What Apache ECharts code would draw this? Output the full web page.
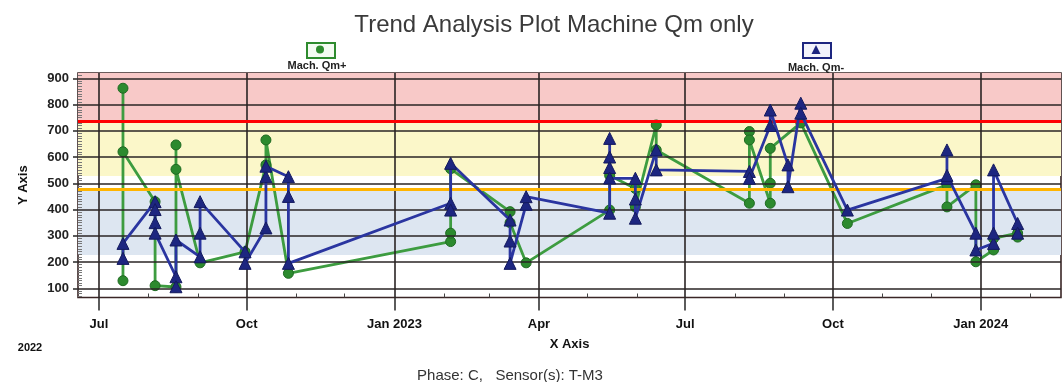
<!DOCTYPE html>
<html><head><meta charset="utf-8">
<script src="https://cdn.jsdelivr.net/npm/echarts@6/dist/echarts.min.js"></script>
<style>html,body{margin:0;padding:0;background:#fff}#c{width:1063px;height:382px}</style>
</head><body><div id="c"></div>
<script>
// ---------- data ----------
const qmPlusDates = ['2022-07-16','2022-07-16','2022-07-16','2022-08-05','2022-08-05','2022-08-18','2022-08-18','2022-08-18','2022-09-02','2022-09-30','2022-10-13','2022-10-13','2022-10-27','2023-02-05','2023-02-05','2023-02-05','2023-03-14','2023-03-14','2023-03-24','2023-05-15','2023-05-15','2023-05-31','2023-05-31','2023-06-13','2023-06-13','2023-08-10','2023-08-10','2023-08-10','2023-08-23','2023-08-23','2023-08-23','2023-09-11','2023-10-10','2023-12-11','2023-12-11','2023-12-29','2023-12-29','2024-01-09','2024-01-09','2024-01-24','2024-01-24'];
const qmPlusValues = [129,862,620,430,110,105,646,553,197,239,570,665,157,278,310,555,392,350,197,398,530,480,410,722,627,424,697,665,424,500,633,730,347,494,410,494,201,246,290,310,295];
const qmMinusDates = ['2022-07-16','2022-07-16','2022-08-05','2022-08-05','2022-08-05','2022-08-05','2022-08-18','2022-08-18','2022-08-18','2022-09-02','2022-09-02','2022-09-02','2022-09-30','2022-09-30','2022-10-13','2022-10-13','2022-10-13','2022-10-27','2022-10-27','2022-10-27','2023-02-05','2023-02-05','2023-02-05','2023-03-14','2023-03-14','2023-03-14','2023-03-24','2023-03-24','2023-05-15','2023-05-15','2023-05-15','2023-05-15','2023-05-15','2023-05-31','2023-05-31','2023-05-31','2023-06-13','2023-06-13','2023-08-10','2023-08-10','2023-08-23','2023-08-23','2023-09-03','2023-09-03','2023-09-11','2023-09-11','2023-10-10','2023-12-11','2023-12-11','2023-12-11','2023-12-29','2023-12-29','2024-01-09','2024-01-09','2024-01-09','2024-01-24','2024-01-24'];
const qmMinusValues = [214,271,430,400,350,310,144,106,284,220,310,430,239,195,330,525,565,525,450,195,424,398,576,360,280,195,420,449,386,671,600,560,520,519,440,367,627,551,545,519,720,779,570,487,805,767,398,519,627,530,310,246,271,310,551,347,310];

const yTickValues = [100,200,300,400,500,600,700,800,900];
const xTickDates = ['2022-07-01','2022-10-01','2023-01-01','2023-04-01','2023-07-01','2023-10-01','2024-01-01'];
const xTickLabels = ['Jul','Oct','Jan 2023','Apr','Jul','Oct','Jan 2024'];
const monthTickDates = ['2022-08-01','2022-09-01','2022-11-01','2022-12-01','2023-02-01','2023-03-01','2023-05-01','2023-06-01','2023-08-01','2023-09-01','2023-11-01','2023-12-01','2024-02-01'];
const xRange = ['2022-06-18','2024-02-20'];
const yRange = [65, 920];
const limitHigh = 735;
const limitLow = 478;
const bandRed = [735, 920];
const bandYellow = [528, 735];
const bandBlue = [227, 478];

// ---------- build ----------
const ts = d => Date.parse(d + 'T00:00:00Z');
const xTicks = xTickDates.map(ts);
const monthTicks = monthTickDates.map(ts);
const plusData = qmPlusDates.map((d, i) => [ts(d), qmPlusValues[i]]);
const minusData = qmMinusDates.map((d, i) => [ts(d), qmMinusValues[i]]);
const minorY = [];
for (let v = 70; v <= 915; v += 10) if (v % 100 !== 0) minorY.push(v);

const sans = "'Liberation Sans',Arial,sans-serif";
const gridLine = { color: '#2a2424', width: 1.6, type: 'solid' };

const chart = echarts.init(document.getElementById('c'), null, { renderer: 'canvas' });
chart.setOption({
  animation: false,
  backgroundColor: '#ffffff',
  title: [
    { text: 'Trend Analysis Plot Machine Qm only', left: 549, top: 8, textAlign: 'center',
      textStyle: { fontFamily: sans, fontSize: 24, fontWeight: 'normal', color: '#3a3a3a' } },
    { text: 'Phase: C,   Sensor(s): T-M3', left: 505, top: 363, textAlign: 'center',
      textStyle: { fontFamily: sans, fontSize: 15, fontWeight: 'normal', color: '#333' } }
  ],
  grid: { left: 78, right: 2, top: 73, bottom: 84.5, show: true, borderColor: '#3a2626', borderWidth: 1.6, backgroundColor: 'transparent' },
  xAxis: [
    { type: 'value', min: ts(xRange[0]), max: ts(xRange[1]), z: 3,
      name: 'X Axis', nameLocation: 'middle', nameGap: 40,
      nameTextStyle: { fontFamily: sans, fontSize: 13, fontWeight: 'bold', color: '#111' },
      axisLine: { show: false },
      axisTick: { show: true, customValues: xTicks, length: 13, lineStyle: { color: '#333', width: 1.6 } },
      axisLabel: { show: true, customValues: xTicks, margin: 20, fontFamily: sans, fontSize: 13, fontWeight: 'bold', color: '#111',
        formatter: v => { const i = xTicks.indexOf(v); return i >= 0 ? xTickLabels[i] : ''; } },
      splitLine: { show: false } },
    { type: 'value', min: ts(xRange[0]), max: ts(xRange[1]), position: 'bottom', offset: 0, z: 3,
      axisLine: { show: false },
      axisTick: { show: true, inside: true, customValues: monthTicks, length: 4, lineStyle: { color: '#444', width: 1 } },
      axisLabel: { show: false }, splitLine: { show: false } }
  ],
  yAxis: [
    { type: 'value', min: yRange[0], max: yRange[1], z: 3,
      name: 'Y Axis', nameLocation: 'middle', nameGap: 48, nameRotate: 90,
      nameTextStyle: { fontFamily: sans, fontSize: 13, fontWeight: 'bold', color: '#111' },
      axisLine: { show: false },
      axisTick: { show: true, customValues: yTickValues, length: 5, lineStyle: { color: '#333', width: 1.6 } },
      axisLabel: { show: true, customValues: yTickValues, margin: 9, fontFamily: sans, fontSize: 13, fontWeight: 'bold', color: '#222' },
      splitLine: { show: false } },
    { type: 'value', min: yRange[0], max: yRange[1], position: 'left', offset: 0, z: 3,
      axisLine: { show: false },
      axisTick: { show: true, inside: true, customValues: minorY, length: 4, lineStyle: { color: '#777', width: 1 } },
      axisLabel: { show: false }, splitLine: { show: false } }
  ],
  graphic: [
    { type: 'rect', left: 306, top: 42, shape: { width: 28, height: 15 }, style: { fill: '#f4fbf2', stroke: '#2e8b2e', lineWidth: 2 }, z: 20 },
    { type: 'circle', shape: { cx: 320, cy: 49.5, r: 4 }, style: { fill: '#2e8b2e' }, z: 21 },
    { type: 'text', position: [317, 60], style: { text: 'Mach. Qm+', x: 0, y: 0, textAlign: 'center', fill: '#222', font: "bold 11px 'Liberation Sans',Arial,sans-serif" }, z: 21 },
    { type: 'rect', left: 802, top: 42, shape: { width: 28, height: 15 }, style: { fill: '#f2f3fb', stroke: '#1d2680', lineWidth: 2 }, z: 20 },
    { type: 'polygon', shape: { points: [[816, 45], [811.5, 54], [820.5, 54]] }, style: { fill: '#1d2680' }, z: 21 },
    { type: 'text', position: [816, 62], style: { text: 'Mach. Qm-', x: 0, y: 0, textAlign: 'center', fill: '#222', font: "bold 11px 'Liberation Sans',Arial,sans-serif" }, z: 21 },
    { type: 'text', position: [30, 342], style: { text: '2022', x: 0, y: 0, textAlign: 'center', fill: '#111', font: "bold 11px 'Liberation Sans',Arial,sans-serif" }, z: 21 }
  ],
  series: [
    { type: 'line', name: 'bands', data: [], z: 1, silent: true,
      markArea: { silent: true, data: [
        [{ yAxis: bandRed[0], itemStyle: { color: '#f8c9c8' } }, { yAxis: bandRed[1] }],
        [{ yAxis: bandYellow[0], itemStyle: { color: '#fbf7c9' } }, { yAxis: bandYellow[1] }],
        [{ yAxis: bandBlue[0], itemStyle: { color: '#dde6f1' } }, { yAxis: bandBlue[1] }]
      ] },
      markLine: { silent: true, symbol: ['none', 'none'], label: { show: false }, lineStyle: gridLine,
        data: yTickValues.map(v => ({ yAxis: v })).concat(xTicks.map(t => ({ xAxis: t }))) } },
    { type: 'line', name: 'Mach. Qm+', data: plusData, z: 4,
      symbol: 'circle', symbolSize: 10, showAllSymbol: true,
      lineStyle: { color: '#3d9c40', width: 2.8 },
      itemStyle: { color: '#2c8a2e', borderColor: '#1f6a22', borderWidth: 1 } },
    { type: 'line', name: 'Mach. Qm-', data: minusData, z: 5,
      symbol: 'triangle', symbolSize: 12, showAllSymbol: true,
      lineStyle: { color: '#2a35a0', width: 2.8 },
      itemStyle: { color: '#1d2680', borderColor: '#141a5e', borderWidth: 1 } },
    { type: 'line', name: 'limits', data: [], z: 10, silent: true,
      markLine: { silent: true, symbol: ['none', 'none'], label: { show: false },
        data: [
          { yAxis: limitHigh, lineStyle: { color: '#ff0000', width: 3, type: 'solid' } },
          { yAxis: limitLow, lineStyle: { color: '#ffb400', width: 3, type: 'solid' } }
        ] } }
  ]
});
</script>
</body></html>
